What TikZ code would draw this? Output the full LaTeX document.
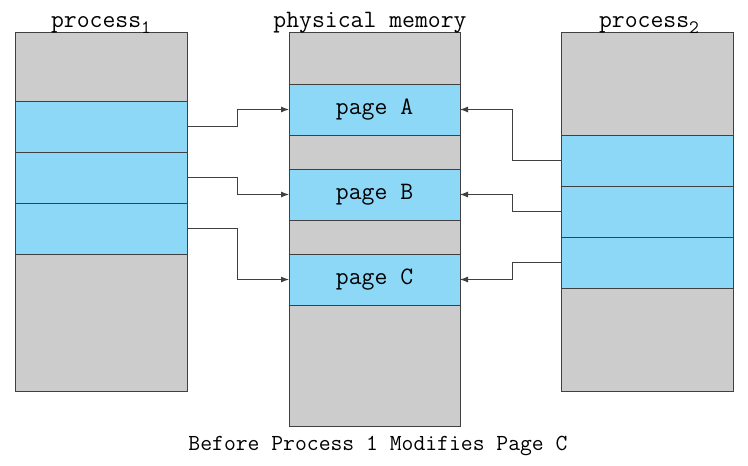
\documentclass[tikz,border=0pt]{standalone}
\usepackage{amsmath,amssymb}
\usepackage{tikz}
\usetikzlibrary{arrows.meta}

\definecolor{pageblue}{RGB}{141,215,247}
\definecolor{framegray}{RGB}{204,204,204}
\newcommand{\lowsub}[1]{{\fontsize{19}{20}\selectfont\raisebox{-6pt}{#1}}}

\begin{document}
\begin{tikzpicture}[x=1pt,y=-1pt,
		every node/.style={font=\fontsize{25}{28}\selectfont\ttfamily},
		frame/.style={draw=black!75,line width=0.95pt,fill=framegray,inner sep=0pt,outer sep=0pt,minimum width=172pt,anchor=north west},
		slot/.style={frame,fill=pageblue,minimum height=51pt},
		link/.style={draw=black!75,line width=0.9pt,-{Latex[length=8pt,width=6pt]}}]
		\useasboundingbox (0,0) rectangle (748,466);
		% the three columns
		\node[frame,minimum height=359pt] (proc1) at (15,32) {};
		\node[frame,minimum height=394pt,minimum width=171pt] (mem) at (289,32) {};
		\node[frame,minimum height=359pt] (proc2) at (561,32) {};
		% titles
		\node[anchor=base] (t1) at (101,27) {process\lowsub{1}};
		\node[anchor=base] (tm) at (370,27) {physical memory};
		\node[anchor=base] (t2) at (649,27) {process\lowsub{2}};
		% pages of process 1
		\node[slot] (l1) at (15,101) {};
		\node[slot] (l2) at (15,152) {};
		\node[slot] (l3) at (15,203) {};
		% pages in memory
		\node[slot,minimum width=171pt] (pA) at (289,84) {page A};
		\node[slot,minimum width=171pt] (pB) at (289,169) {page B};
		\node[slot,minimum width=171pt] (pC) at (289,254) {page C};
		% pages of process 2
		\node[slot] (r1) at (561,135) {};
		\node[slot] (r2) at (561,186) {};
		\node[slot] (r3) at (561,237) {};
		% mappings
		\draw[link] (l1.east) -- ++(50,0) |- (pA.west);
		\draw[link] (l2.east) -- ++(50,0) |- (pB.west);
		\draw[link] (l3.east) -- ++(50,0) |- (pC.west);
		\draw[link] (r1.west) -- ++(-49,0) |- (pA.east);
		\draw[link] (r2.west) -- ++(-49,0) |- (pB.east);
		\draw[link] (r3.west) -- ++(-49,0) |- (pC.east);
		\node[anchor=base,font=\fontsize{23}{26}\selectfont\ttfamily] (cap) at (378,450) {Before Process 1 Modifies Page C};
	\end{tikzpicture}
\end{document}
